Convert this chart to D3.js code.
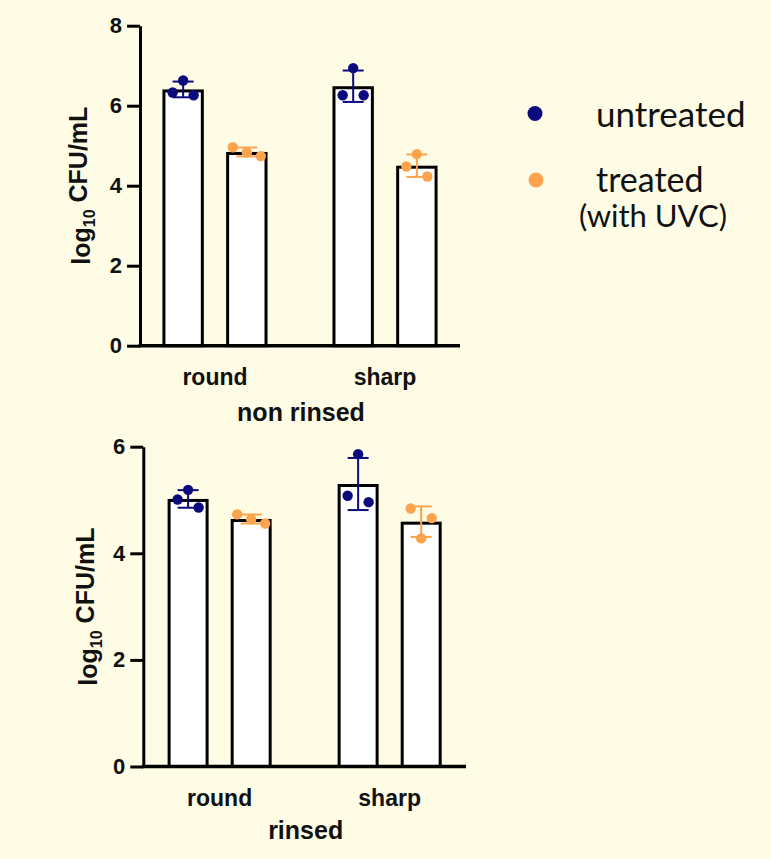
<!DOCTYPE html>
<html>
<head>
<meta charset="utf-8">
<script src="https://cdn.jsdelivr.net/npm/d3@7"></script>
<style>
  body { margin: 0; background: #fffce6; }
  svg { display: block; }
</style>
</head>
<body>
<svg width="771" height="859"></svg>
<script>
// categories and series
var groups = ["round", "sharp"];
var series = ["untreated", "treated"];

// replicate values (log10 CFU/mL), one array per group
var nonRinsedUntreated = [[6.33, 6.63, 6.26], [6.26, 6.94, 6.26]];
var nonRinsedTreated   = [[4.96, 4.83, 4.74], [4.48, 4.79, 4.23]];
var rinsedUntreated    = [[5.01, 5.19, 4.86], [5.08, 5.86, 4.96]];
var rinsedTreated      = [[4.73, 4.64, 4.56], [4.84, 4.28, 4.66]];

var nonRinsedTicks = [0, 2, 4, 6, 8];
var rinsedTicks = [0, 2, 4, 6];

var colors = { untreated: "#0b0b7d", treated: "#fba44d" };
var boldFont = "Liberation Sans, Arial, sans-serif";

var svg = d3.select("svg");

function drawPanel(cfg) {
    var g = svg.append("g");

    var y = d3.scaleLinear()
        .domain([0, cfg.max])
        .range([cfg.bottom, cfg.top]);

    var x0 = d3.scaleBand()
        .domain(groups)
        .range([cfg.left, cfg.right])
        .paddingInner(cfg.padIn)
        .paddingOuter(cfg.padOut)
        .align(0.5);

    var x1 = d3.scaleBand()
        .domain(series)
        .range([0, x0.bandwidth()])
        .paddingInner(0.35)
        .paddingOuter(0);

    var rows = [];
    groups.forEach(function(grp, gi) {
        series.forEach(function(s) {
            var vals = cfg.data[s][gi];
            rows.push({
                group: grp,
                series: s,
                vals: vals,
                mean: d3.mean(vals),
                sd: d3.deviation(vals)
            });
        });
    });

    // bars, stroke kept inside the value
    g.selectAll("rect.bar")
        .data(rows).enter()
        .append("rect")
            .attr("class", "bar")
            .attr("x", function(d) { return x0(d.group) + x1(d.series) + 1.5; })
            .attr("y", function(d) { return y(d.mean) + 1.5; })
            .attr("width", x1.bandwidth() - 3)
            .attr("height", function(d) { return y(0) - y(d.mean) - 1.5; })
            .attr("fill", "#ffffff")
            .style("stroke", "#000")
            .style("stroke-width", 3);

    // y axis
    var yAxis = g.append("g")
        .attr("transform", "translate(" + cfg.left + ",0)")
        .call(d3.axisLeft(y).tickValues(cfg.ticks).tickFormat(d3.format("d"))
            .tickSize(13).tickSizeOuter(0).tickPadding(5));
    yAxis.select(".domain").style("stroke", "#000").style("stroke-width", 3);
    yAxis.selectAll(".tick line").style("stroke", "#000").style("stroke-width", 3);
    yAxis.selectAll(".tick text")
        .style("font-family", boldFont)
        .style("font-weight", "bold")
        .style("font-size", "22px")
        .style("fill", "#111");

    // baseline
    g.append("line")
        .attr("x1", cfg.left - 1.5)
        .attr("x2", cfg.right)
        .attr("y1", y(0))
        .attr("y2", y(0))
        .style("stroke", "#000")
        .style("stroke-width", 3.5);

    // error bars (mean +/- SD)
    var err = g.selectAll("g.err")
        .data(rows).enter()
        .append("g")
            .attr("class", "err")
            .style("stroke", function(d) { return colors[d.series]; })
            .style("stroke-width", 2);
    function cx(d) { return x0(d.group) + x1(d.series) + x1.bandwidth() / 2; }
    err.append("line")
        .attr("x1", cx).attr("x2", cx)
        .attr("y1", function(d) { return y(d.mean + d.sd); })
        .attr("y2", function(d) { return y(d.mean - d.sd); });
    err.append("line")
        .attr("x1", function(d) { return cx(d) - 10.5; })
        .attr("x2", function(d) { return cx(d) + 10.5; })
        .attr("y1", function(d) { return y(d.mean + d.sd); })
        .attr("y2", function(d) { return y(d.mean + d.sd); });
    err.append("line")
        .attr("x1", function(d) { return cx(d) - 10.5; })
        .attr("x2", function(d) { return cx(d) + 10.5; })
        .attr("y1", function(d) { return y(d.mean - d.sd); })
        .attr("y2", function(d) { return y(d.mean - d.sd); });

    // replicate dots
    var dots = [];
    rows.forEach(function(r) {
        var spread = (d3.max(r.vals) - d3.min(r.vals)) < 0.25 ? 14 : 10.5;
        r.vals.forEach(function(v, i) {
            dots.push({ x: cx(r) + (i - 1) * spread, v: v, series: r.series });
        });
    });
    g.selectAll("circle.pt")
        .data(dots).enter()
        .append("circle")
            .attr("class", "pt")
            .attr("cx", function(d) { return d.x; })
            .attr("cy", function(d) { return y(d.v); })
            .attr("r", 5.2)
            .attr("fill", function(d) { return colors[d.series]; });

    // category labels
    g.selectAll("text.cat")
        .data(groups).enter()
        .append("text")
            .attr("class", "cat")
            .attr("x", function(d) { return x0(d) + x0.bandwidth() / 2; })
            .attr("y", cfg.bottom + 39)
            .attr("text-anchor", "middle")
            .style("font-family", boldFont)
            .style("font-weight", "bold")
            .style("font-size", "23px")
            .style("fill", "#111")
            .text(function(d) { return d; });

    // x title
    g.append("text")
        .attr("x", (cfg.left + cfg.right) / 2 + 1)
        .attr("y", cfg.bottom + cfg.titleDy)
        .attr("text-anchor", "middle")
        .style("font-family", boldFont)
        .style("font-weight", "bold")
        .style("font-size", "25px")
        .style("fill", "#111")
        .text(cfg.title);

    // y title with subscript
    var yl = g.append("text")
        .attr("transform", "translate(" + cfg.ylabX + "," + (cfg.top + cfg.bottom) / 2 + ") rotate(-90)")
        .attr("text-anchor", "middle")
        .style("font-family", boldFont)
        .style("font-weight", "bold")
        .style("font-size", "25px")
        .style("fill", "#111");
    yl.append("tspan").text("log");
    yl.append("tspan").attr("dy", "0.3em").style("font-size", "16px").text("10");
    yl.append("tspan").attr("dy", "-0.3em").text(" CFU/mL");
}

drawPanel({
    data: { untreated: nonRinsedUntreated, treated: nonRinsedTreated },
    ticks: nonRinsedTicks, max: 8,
    top: 25.7, bottom: 345.7, left: 140, right: 460,
    padIn: 0.382, padOut: 0.132,
    title: "non rinsed", titleDy: 75, ylabX: 90
});

drawPanel({
    data: { untreated: rinsedUntreated, treated: rinsedTreated },
    ticks: rinsedTicks, max: 6,
    top: 446.7, bottom: 766.5, left: 143.3, right: 466,
    padIn: 0.388, padOut: 0.143,
    title: "rinsed", titleDy: 72, ylabX: 96.7
});

// legend
var legend = svg.append("g");
legend.append("circle").attr("cx", 535).attr("cy", 113.5).attr("r", 7.5).attr("fill", colors.untreated);
legend.append("circle").attr("cx", 536).attr("cy", 180).attr("r", 7.5).attr("fill", colors.treated);
legend.append("text").attr("x", 596).attr("y", 126.5)
    .style("font-family", "Lato, sans-serif").style("font-size", "35px").style("fill", "#111")
    .text("untreated");
legend.append("text").attr("x", 596).attr("y", 191.5)
    .style("font-family", "Lato, sans-serif").style("font-size", "34px").style("fill", "#111")
    .text("treated");
legend.append("text").attr("x", 579).attr("y", 226.5)
    .style("font-family", "Lato, sans-serif").style("font-size", "31px").style("fill", "#111")
    .text("(with UVC)");
</script>
</body>
</html>
